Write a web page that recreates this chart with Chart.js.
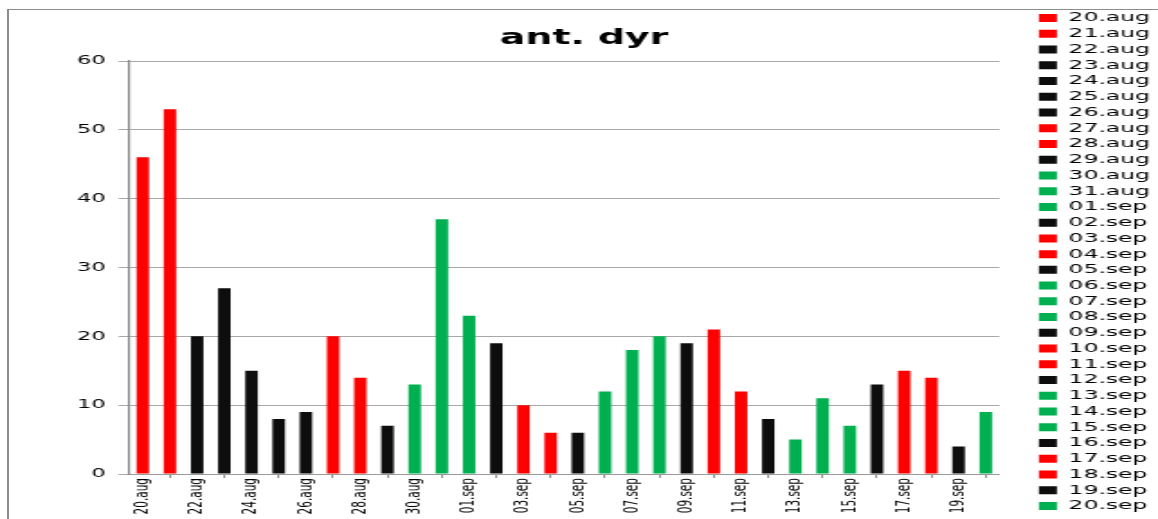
<!DOCTYPE html>
<html>
<head>
<meta charset="utf-8">
<script src="https://cdn.jsdelivr.net/npm/chart.js@4/dist/chart.umd.min.js"></script>
<style>
  html, body { margin: 0; padding: 0; background: #fff; overflow: hidden; }
  /* cadre du graphique (bord gauche et haut seulement visibles) */
  #frame { position: absolute; left: 7px; top: 9px; width: 1300px; height: 700px;
           border-left: 2px solid #8c8c8c; border-top: 1px solid #8c8c8c; }
  /* le graphique d'origine est étiré horizontalement */
  #wrap { position: absolute; left: 0; top: 0; width: 643px; height: 519px;
          transform: scaleX(1.8009); transform-origin: 0 0; }
</style>
</head>
<body>
<div id="frame"></div>
<div id="wrap"><canvas id="dyrChart"></canvas></div>
<script>
const ctx = document.getElementById('dyrChart').getContext('2d');

// Jours (catégories)
const categories = [
  '20.aug', '21.aug', '22.aug', '23.aug', '24.aug', '25.aug', '26.aug', '27.aug',
  '28.aug', '29.aug', '30.aug', '31.aug', '01.sep', '02.sep', '03.sep', '04.sep',
  '05.sep', '06.sep', '07.sep', '08.sep', '09.sep', '10.sep', '11.sep', '12.sep',
  '13.sep', '14.sep', '15.sep', '16.sep', '17.sep', '18.sep', '19.sep', '20.sep'
];

// Nombre d'animaux par jour
const antDyr = [46, 53, 20, 27, 15, 8, 9, 20, 14, 7, 13, 37, 23, 19, 10, 6,
                6, 12, 18, 20, 19, 21, 12, 8, 5, 11, 7, 13, 15, 14, 4, 9];

// Couleur de chaque barre
const R = '#ff0000', K = '#0d0d0d', G = '#00b050';
const barColors = [R, R, K, K, K, K, K, R, R, K, G, G, G, K, R, R,
                   K, G, G, G, K, R, R, K, G, G, G, K, R, R, K, G];

// Graduations de l'axe Y
const yTicks = [0, 10, 20, 30, 40, 50, 60];

Chart.defaults.font.family = "'DejaVu Sans', sans-serif";

// décale le titre comme dans l'original
const titleShift = {
  id: 'titleShift',
  afterLayout(chart) {
    chart.titleBlock.left += 11;
    chart.titleBlock.right += 11;
  }
};

const dyrChart = new Chart(ctx, {
  type: 'bar',
  data: {
    labels: categories,
    datasets: [{
      label: 'ant. dyr',
      data: antDyr,
      backgroundColor: barColors,
      borderWidth: 0,
      barPercentage: 0.46,
      categoryPercentage: 1
    }]
  },
  plugins: [titleShift],
  options: {
    responsive: true,
    maintainAspectRatio: false,
    animation: false,
    layout: { padding: { top: 5, left: 0, right: -5.5, bottom: 0 } },
    plugins: {
      title: {
        display: true,
        text: 'ant. dyr',
        fullSize: false,
        color: '#000',
        font: { size: 21, weight: 'bold' },
        padding: { top: 21, bottom: 9.8 }
      },
      legend: {
        display: true,
        position: 'right',
        align: 'center',
        labels: {
          color: '#000',
          font: { size: 13 },
          boxWidth: 10,
          boxHeight: 8,
          padding: 2.74,
          generateLabels: () => categories.map((c, i) => ({
            text: c,
            fillStyle: barColors[i],
            strokeStyle: barColors[i],
            lineWidth: 0,
            hidden: false,
            index: i,
            datasetIndex: 0
          }))
        }
      },
      tooltip: { enabled: false }
    },
    scales: {
      x: {
        offset: true,
        grid: { display: true, drawOnChartArea: false, drawTicks: true, tickLength: 4, color: '#8c8c8c', offset: true },
        border: { display: true, color: '#9a9a9a', width: 1 },
        ticks: {
          autoSkip: false,
          minRotation: 90,
          maxRotation: 90,
          padding: 0,
          color: '#000',
          font: { size: 10.5 },
          callback: (v, i) => (i % 2 === 0 ? categories[i] : null)
        },
        afterFit: s => { s.height = 45; }
      },
      y: {
        min: 0,
        max: 60,
        afterBuildTicks: s => { s.ticks = yTicks.map(v => ({ value: v })); },
        grid: { color: '#a8a8a8', lineWidth: 1, tickLength: 6 },
        border: { display: true, color: '#868686', width: 1.2 },
        ticks: { color: '#000', padding: 7, font: { size: 12.5 } },
        afterFit: s => { s.width = 71.7; }
      },
      yR: {
        type: 'linear',
        position: 'right',
        display: true,
        grid: { display: false },
        border: { display: false },
        ticks: { display: false },
        afterFit: s => { s.width = 19.2; }
      }
    }
  }
});
</script>
</body>
</html>
